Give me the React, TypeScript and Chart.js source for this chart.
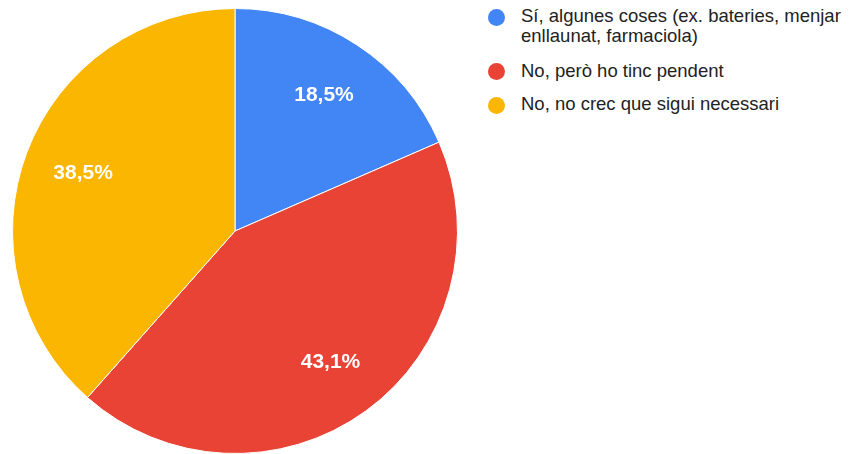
import React, { useEffect, useRef } from "react";
import { Chart, registerables } from "chart.js";

Chart.register(...registerables);

const categories = [
  "Sí, algunes coses (ex. bateries, menjar enllaunat, farmaciola)",
  "No, però ho tinc pendent",
  "No, no crec que sigui necessari",
];
const counts = [12, 28, 25];
const colors = ["#4285f4", "#e84335", "#fab601"];

const FONT = "'Liberation Sans', Arial, sans-serif";

const labelPlugin = {
  id: "sliceLabels",
  afterDatasetsDraw(chart: any) {
    const ctx = chart.ctx;
    const meta = chart.getDatasetMeta(0);
    const data = chart.data.datasets[0].data as number[];
    const total = data.reduce((a, b) => a + b, 0);
    ctx.save();
    ctx.fillStyle = "#ffffff";
    ctx.font = `bold 21px ${FONT}`;
    ctx.textAlign = "center";
    ctx.textBaseline = "middle";
    meta.data.forEach((arc: any, i: number) => {
      const mid = (arc.startAngle + arc.endAngle) / 2;
      const r = arc.outerRadius * 0.73;
      const x = arc.x + Math.cos(mid) * r;
      const y = arc.y + Math.sin(mid) * r;
      const pct = ((data[i] / total) * 100).toFixed(1).replace(".", ",") + "%";
      ctx.fillText(pct, x, y);
    });
    ctx.restore();
  },
};

export default function App() {
  const ref = useRef<HTMLCanvasElement>(null);
  useEffect(() => {
    if (!ref.current) return;
    const chart = new Chart(ref.current, {
      type: "pie",
      data: {
        labels: categories,
        datasets: [
          {
            data: counts,
            backgroundColor: colors,
            borderColor: "#ffffff",
            borderWidth: 1,
          },
        ],
      },
      options: {
        animation: false,
        responsive: false,
        maintainAspectRatio: false,
        layout: { padding: 0 },
        plugins: {
          legend: { display: false },
          tooltip: { enabled: false },
        },
      },
      plugins: [labelPlugin],
    });
    return () => chart.destroy();
  }, []);

  const circleCenter = [17, 71, 105];
  const textTop = [6, 61, 94];
  return (
    <div
      style={{
        position: "fixed",
        left: 0,
        top: 0,
        width: 852,
        height: 454,
        background: "#ffffff",
        overflow: "hidden",
        fontFamily: FONT,
      }}
    >
      <canvas
        ref={ref}
        width={446}
        height={446}
        style={{ position: "absolute", left: 12, top: 8, width: 446, height: 446 }}
      />
      {categories.map((c, i) => (
        <React.Fragment key={c}>
          <div
            style={{
              position: "absolute",
              left: 488,
              top: circleCenter[i] - 8.5,
              width: 17,
              height: 17,
              borderRadius: "50%",
              background: colors[i],
            }}
          />
          <div
            style={{
              position: "absolute",
              left: 521,
              top: textTop[i],
              width: 331,
              fontSize: 18.5,
              lineHeight: "19.5px",
              color: "#222222",
            }}
          >
            {c}
          </div>
        </React.Fragment>
      ))}
    </div>
  );
}
